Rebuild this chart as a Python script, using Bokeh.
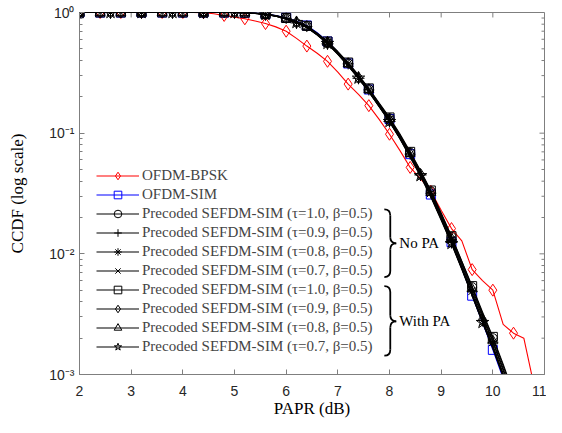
from bokeh.plotting import figure
from bokeh.models import FixedTicker, Legend, LegendItem
from bokeh.core.properties import value
from bokeh.embed import file_html
from bokeh.resources import INLINE

# ---------------- data ----------------
papr_db = [2.0, 2.2, 2.4, 2.6, 2.8, 3.0, 3.2, 3.4, 3.6, 3.8, 4.0, 4.2, 4.4, 4.6, 4.8,
           5.0, 5.2, 5.4, 5.6, 5.8, 6.0, 6.2, 6.4, 6.6, 6.8, 7.0, 7.2, 7.4, 7.6, 7.8,
           8.0, 8.2, 8.4, 8.6, 8.8, 9.0, 9.2, 9.4, 9.6, 9.8, 10.0, 10.2, 10.4]
papr_db_bpsk = papr_db + [10.6, 10.8]

ofdm_bpsk = [1.0] * 12 + [0.995, 0.975, 0.945, 0.915, 0.887, 0.85, 0.81, 0.76, 0.70, 0.61,
                          0.527, 0.46, 0.394, 0.32, 0.255, 0.21, 0.169, 0.13, 0.098, 0.072,
                          0.052, 0.042, 0.033, 0.023, 0.0162, 0.0128, 0.0074, 0.006, 0.005,
                          0.0026, 0.0022, 0.002, 0.0008]
ofdm_sim = [1.0] * 16 + [0.997, 0.99, 0.972, 0.945, 0.905, 0.85, 0.78, 0.68, 0.575, 0.47,
                         0.378, 0.297, 0.23, 0.174, 0.131, 0.095, 0.067, 0.046, 0.031, 0.0198,
                         0.0125, 0.0076, 0.0045, 0.0027, 0.0016, 0.00093, 0.0005]
noPA_t10 = [1.0] * 16 + [0.996, 0.987, 0.968, 0.94, 0.90, 0.84, 0.77, 0.67, 0.57, 0.47,
                         0.38, 0.30, 0.232, 0.176, 0.133, 0.097, 0.069, 0.048, 0.033, 0.0215,
                         0.0138, 0.0086, 0.0053, 0.0032, 0.0020, 0.00118, 0.00068]
noPA_t09 = [1.0] * 16 + [0.995, 0.984, 0.963, 0.93, 0.88, 0.82, 0.75, 0.65, 0.55, 0.45,
                         0.36, 0.285, 0.22, 0.166, 0.125, 0.091, 0.064, 0.045, 0.030, 0.0195,
                         0.0124, 0.0076, 0.0046, 0.0028, 0.0017, 0.00099, 0.00056]
noPA_t08 = [1.0] * 16 + [0.995, 0.986, 0.966, 0.937, 0.893, 0.835, 0.765, 0.665, 0.565, 0.465,
                         0.375, 0.295, 0.228, 0.172, 0.130, 0.095, 0.067, 0.047, 0.0318, 0.0205,
                         0.0131, 0.0081, 0.0049, 0.0030, 0.00185, 0.00108, 0.00062]
noPA_t07 = [1.0] * 16 + [0.994, 0.983, 0.962, 0.93, 0.885, 0.825, 0.752, 0.652, 0.552, 0.452,
                         0.362, 0.284, 0.22, 0.166, 0.124, 0.090, 0.063, 0.044, 0.0296, 0.019,
                         0.0121, 0.0074, 0.0045, 0.0027, 0.00165, 0.00096, 0.00054]
PA_t10 = [1.0] * 16 + [0.996, 0.988, 0.969, 0.942, 0.90, 0.845, 0.775, 0.675, 0.575, 0.475,
                       0.385, 0.303, 0.235, 0.178, 0.135, 0.099, 0.070, 0.049, 0.0335, 0.0218,
                       0.014, 0.0087, 0.0054, 0.0033, 0.00205, 0.00122, 0.0007]
PA_t09 = [1.0] * 16 + [0.995, 0.985, 0.965, 0.935, 0.89, 0.83, 0.758, 0.658, 0.558, 0.458,
                       0.368, 0.288, 0.224, 0.169, 0.127, 0.092, 0.065, 0.0455, 0.0307, 0.0198,
                       0.0126, 0.0078, 0.0047, 0.00285, 0.00175, 0.00102, 0.00058]
PA_t08 = [1.0] * 16 + [0.995, 0.986, 0.967, 0.938, 0.895, 0.837, 0.768, 0.668, 0.568, 0.468,
                       0.378, 0.297, 0.23, 0.174, 0.131, 0.096, 0.068, 0.0475, 0.0322, 0.021,
                       0.0134, 0.0083, 0.0051, 0.0031, 0.0019, 0.00112, 0.00064]
PA_t07 = [1.0] * 16 + [0.994, 0.984, 0.963, 0.932, 0.887, 0.827, 0.755, 0.655, 0.555, 0.455,
                       0.365, 0.286, 0.222, 0.167, 0.125, 0.091, 0.064, 0.0445, 0.030, 0.0193,
                       0.0122, 0.0075, 0.0045, 0.0027, 0.00166, 0.00097, 0.00055]

x_ticks = [2, 3, 4, 5, 6, 7, 8, 9, 10, 11]
y_ticks = [1e-3, 1e-2, 1e-1, 1.0]
y_tick_labels = ["10\u207b\u00b3", "10\u207b\u00b2", "10\u207b\u00b9", "10\u2070"]
y_minor = [m * d for d in (1e-3, 1e-2, 1e-1) for m in range(2, 10)]

label_bpsk = "OFDM-BPSK"
label_sim = "OFDM-SIM"
label_prec = "Precoded SEFDM-SIM (\u03c4={t}, \u03b2=0.5)"

# ---------------- figure ----------------
W, H = 546, 420
FRAME_W, FRAME_H = 465, 364
B_LEFT, B_TOP = 79, 12
p = figure(width=W, height=H, y_axis_type="log", x_range=(2, 11), y_range=(1e-3, 1),
           output_backend="svg", toolbar_location=None,
           min_border_left=B_LEFT, min_border_right=W - B_LEFT - FRAME_W,
           min_border_top=B_TOP, min_border_bottom=H - B_TOP - FRAME_H)
p.xgrid.visible = False
p.ygrid.visible = False
p.outline_line_color = "#7f7f7f"
p.background_fill_color = "white"
p.border_fill_color = "white"

axis_col = "#7f7f7f"
tick_font = "Liberation Sans"

xa = p.xaxis[0]
xa.ticker = FixedTicker(ticks=x_ticks)
ya = p.yaxis[0]
ya.ticker = FixedTicker(ticks=y_ticks, minor_ticks=y_minor)
ya.major_label_overrides = {v: s for v, s in zip(y_ticks, y_tick_labels)}
for ax in (xa, ya):
    ax.axis_line_color = axis_col
    ax.major_tick_line_color = axis_col
    ax.minor_tick_line_color = axis_col
    ax.major_tick_in = 5
    ax.major_tick_out = 0
    ax.minor_tick_in = 3
    ax.minor_tick_out = 0
    ax.major_label_text_font = tick_font
    ax.major_label_text_font_size = "14px"
    ax.major_label_text_color = "#262626"
    ax.axis_label_text_font = "Liberation Serif"
    ax.axis_label_text_font_size = "17px"
    ax.axis_label_text_font_style = "normal"
    ax.axis_label_text_color = "black"
xa.minor_tick_line_color = None
xa.axis_label = "PAPR (dB)"
xa.major_label_standoff = 11
xa.axis_label_standoff = 0
ya.axis_label = "CCDF (log scale)"
ya.major_label_standoff = 5
ya.axis_label_standoff = 19

# mirrored (inward) ticks on the top and right edges, taken from the tick lists
px_per_decade = FRAME_H / 3.0
px_per_db = FRAME_W / 9.0
top_len = 10 ** (-5 / px_per_decade)
p.segment(x0=x_ticks[1:-1], y0=[1.0] * (len(x_ticks) - 2), x1=x_ticks[1:-1],
          y1=[top_len] * (len(x_ticks) - 2), line_color=axis_col, line_width=1)
p.segment(x0=[11] * len(y_ticks), y0=y_ticks, x1=[11 - 5 / px_per_db] * len(y_ticks),
          y1=y_ticks, line_color=axis_col, line_width=1)
p.segment(x0=[11] * len(y_minor), y0=y_minor, x1=[11 - 3 / px_per_db] * len(y_minor),
          y1=y_minor, line_color=axis_col, line_width=1)

# ---------------- series ----------------
series = [
    (label_bpsk, papr_db_bpsk, ofdm_bpsk, "red", "diamond", 12, 0, 2),
    (label_sim, papr_db, ofdm_sim, "blue", "square", 9, 0, 2),
    (label_prec.format(t="1.0"), papr_db, noPA_t10, "black", "circle", 9, 0, 2),
    (label_prec.format(t="0.9"), papr_db, noPA_t09, "black", "cross", 12, 0, 3),
    (label_prec.format(t="0.8"), papr_db, noPA_t08, "black", "asterisk", 11, 0, 2),
    (label_prec.format(t="0.7"), papr_db, noPA_t07, "black", "x", 9, 0, 3),
    (label_prec.format(t="1.0"), papr_db, PA_t10, "black", "square", 9, 0, 2),
    (label_prec.format(t="0.9"), papr_db, PA_t09, "black", "diamond", 12, 0, 3),
    (label_prec.format(t="0.8"), papr_db, PA_t08, "black", "triangle", 10, 0, 2),
    (label_prec.format(t="0.7"), papr_db, PA_t07, "black", "star", 13, 0, 3),
]

items = []
for lab, xs, ys, col, mk, sz, off, step in series:
    lr = p.line(xs, ys, line_color=col, line_width=1.1)
    sr = p.scatter(xs[off::step], ys[off::step], marker=mk, size=sz,
                   line_color=col, fill_color=None, line_width=1)
    items.append(LegendItem(label=lab, renderers=[lr, sr]))

legend = Legend(items=items, location=(17, 18), padding=0, margin=0,
                border_line_alpha=0, background_fill_alpha=0,
                label_text_font="Liberation Serif", label_text_font_size="15px",
                glyph_width=43, glyph_height=19, label_height=19, spacing=0,
                label_standoff=3)
p.add_layout(legend, "center")

# ---------------- braces & group labels ----------------
brace_x0 = 7.90
brace_w = 0.23
brace_r = 0.05
brace_groups = [(-1.632, -1.913, -2.193), (-2.267, -2.56, -2.844)]
group_texts = ["No PA", "With PA"]
group_text_x = 8.19

qx0, qy0, qx1, qy1, qcx, qcy = [], [], [], [], [], []
sx0, sy0, sx1, sy1 = [], [], [], []
xm = brace_x0 + brace_w / 2
xt = brace_x0 + brace_w
for lt, lm, lb in brace_groups:
    for (a, b, c) in [((brace_x0, lt), (xm, lt - brace_r), (xm, lt)),
                      ((xm, lm + brace_r), (xt, lm), (xm, lm)),
                      ((xt, lm), (xm, lm - brace_r), (xm, lm)),
                      ((xm, lb + brace_r), (brace_x0, lb), (xm, lb))]:
        qx0.append(a[0]); qy0.append(10 ** a[1])
        qx1.append(b[0]); qy1.append(10 ** b[1])
        qcx.append(c[0]); qcy.append(10 ** c[1])
    for (a, b) in [((xm, lt - brace_r), (xm, lm + brace_r)),
                   ((xm, lm - brace_r), (xm, lb + brace_r))]:
        sx0.append(a[0]); sy0.append(10 ** a[1])
        sx1.append(b[0]); sy1.append(10 ** b[1])

p.quadratic(x0=qx0, y0=qy0, x1=qx1, y1=qy1, cx=qcx, cy=qcy, line_color="black", line_width=1.8)
p.segment(x0=sx0, y0=sy0, x1=sx1, y1=sy1, line_color="black", line_width=1.8)
p.text(x=[group_text_x] * 2, y=[10 ** g[1] for g in brace_groups], text=group_texts,
       text_baseline="middle", text_align="left", text_color="black",
       text_font=value("Liberation Serif"), text_font_size="15px")

open("out.html", "w").write(file_html(p, INLINE))
